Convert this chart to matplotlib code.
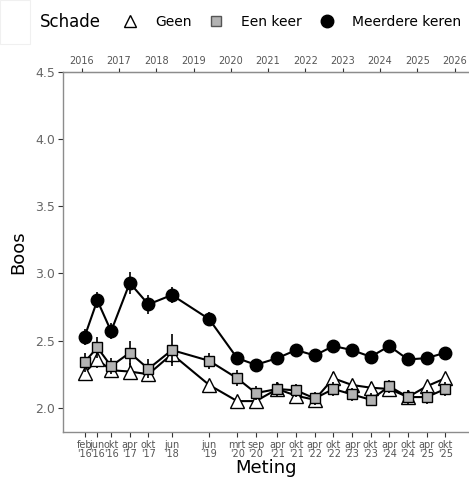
import matplotlib
matplotlib.use("Agg")
import matplotlib.pyplot as plt
from matplotlib.lines import Line2D
from matplotlib.patches import Rectangle

# Meetmomenten (decimale jaren) en labels
meting = [2016.08, 2016.42, 2016.79, 2017.29, 2017.79, 2018.42, 2019.42,
          2020.17, 2020.67, 2021.25, 2021.75, 2022.25, 2022.75, 2023.25,
          2023.75, 2024.25, 2024.75, 2025.25, 2025.75]
meting_labels = ["feb\n'16", "jun\n'16", "okt\n'16", "apr\n'17", "okt\n'17",
                 "jun\n'18", "jun\n'19", "mrt\n'20", "sep\n'20", "apr\n'21",
                 "okt\n'21", "apr\n'22", "okt\n'22", "apr\n'23", "okt\n'23",
                 "apr\n'24", "okt\n'24", "apr\n'25", "okt\n'25"]
jaren = list(range(2016, 2027))

# Boos per groep
geen = [2.26, 2.36, 2.28, 2.27, 2.25, 2.40, 2.17, 2.05, 2.05, 2.14, 2.09,
        2.06, 2.22, 2.17, 2.15, 2.14, 2.08, 2.16, 2.22]
geen_err = [0.05, 0.06, 0.05, 0.06, 0.05, 0.07, 0.04, 0.04, 0.04, 0.04, 0.04,
            0.04, 0.05, 0.04, 0.04, 0.04, 0.04, 0.04, 0.04]
een_keer = [2.34, 2.45, 2.31, 2.41, 2.29, 2.43, 2.35, 2.22, 2.11, 2.14, 2.13,
            2.07, 2.14, 2.10, 2.06, 2.16, 2.08, 2.08, 2.14]
een_keer_err = [0.07, 0.08, 0.06, 0.09, 0.07, 0.12, 0.06, 0.06, 0.05, 0.05, 0.05,
                0.05, 0.05, 0.05, 0.05, 0.05, 0.05, 0.05, 0.05]
meerdere = [2.53, 2.80, 2.57, 2.93, 2.77, 2.84, 2.66, 2.37, 2.32, 2.37, 2.43,
            2.39, 2.46, 2.43, 2.38, 2.46, 2.36, 2.37, 2.41]
meerdere_err = [0.06, 0.06, 0.06, 0.08, 0.07, 0.06, 0.05, 0.04, 0.04, 0.04, 0.04,
                0.04, 0.04, 0.04, 0.04, 0.04, 0.04, 0.04, 0.04]

W, H = 469, 488
fig = plt.figure(figsize=(W / 100, H / 100), dpi=100)
ax = fig.add_axes([63 / W, (H - 432) / H, (468 - 63) / W, (432 - 72) / H])

# klein kadertje linksboven
fig.add_artist(Rectangle((0, (H - 44) / H), 30 / W, 44 / H, transform=fig.transFigure,
                         facecolor="white", edgecolor="#f0f0f0", lw=0.8))

stijl = dict(color="black", lw=1.5, elinewidth=1.2, capsize=0, markeredgecolor="black",
             markeredgewidth=1.0)
ax.errorbar(meting, geen, yerr=geen_err, marker="^", ms=9.5, markerfacecolor="white",
            zorder=2, **stijl)
ax.errorbar(meting, een_keer, yerr=een_keer_err, marker="s", ms=7.5,
            markerfacecolor="#b3b3b3", zorder=3, **stijl)
ax.errorbar(meting, meerdere, yerr=meerdere_err, marker="o", ms=9,
            markerfacecolor="black", zorder=4, **stijl)

ax.set_xlim(2015.5, 2026.36)
ax.set_ylim(1.82, 4.5)
ax.set_yticks([2.0, 2.5, 3.0, 3.5, 4.0, 4.5])
ax.set_yticklabels(["2.0", "2.5", "3.0", "3.5", "4.0", "4.5"])
ax.set_xticks(meting)
ax.set_xticklabels(meting_labels, linespacing=0.95)
ax.tick_params(axis="x", labelsize=7, colors="#333333", labelcolor="#555555",
               length=3.5, pad=2)
ax.tick_params(axis="y", labelsize=9, colors="#333333", labelcolor="#666666",
               length=3.5, pad=2)
for s in ["left", "bottom", "top"]:
    ax.spines[s].set_color("#8c8c8c")
    ax.spines[s].set_linewidth(1.0)
ax.spines["right"].set_visible(False)
ax.set_xlabel("Meting", fontsize=13, labelpad=0)
ax.set_ylabel("Boos", fontsize=13, labelpad=6)

# jaren bovenaan
ax2 = ax.twiny()
ax2.set_xlim(ax.get_xlim())
ax2.set_xticks(jaren)
ax2.set_xticklabels([str(j) for j in jaren])
ax2.tick_params(axis="x", labelsize=7, colors="#333333", labelcolor="#555555",
                length=3, pad=1.5)
for s in ["left", "bottom", "right"]:
    ax2.spines[s].set_visible(False)
ax2.spines["top"].set_color("#8c8c8c")

# legenda
fig.text(40 / W, 1 - 22 / H, "Schade", fontsize=12, va="center", ha="left")
handles = [
    Line2D([], [], ls="none", marker="^", ms=9, markerfacecolor="white",
           markeredgecolor="black"),
    Line2D([], [], ls="none", marker="s", ms=6.5, markerfacecolor="#b3b3b3",
           markeredgecolor="#555555"),
    Line2D([], [], ls="none", marker="o", ms=9, markerfacecolor="black",
           markeredgecolor="black"),
]
fig.legend(handles, ["Geen", "Een keer", "Meerdere keren"], ncol=3, frameon=False,
           fontsize=10, handlelength=1.0, handletextpad=1.3, columnspacing=1.3,
           loc="center left", bbox_to_anchor=(123 / W, 1 - 22 / H),
           borderaxespad=0, borderpad=0)

fig.savefig("out.png", dpi=100)
